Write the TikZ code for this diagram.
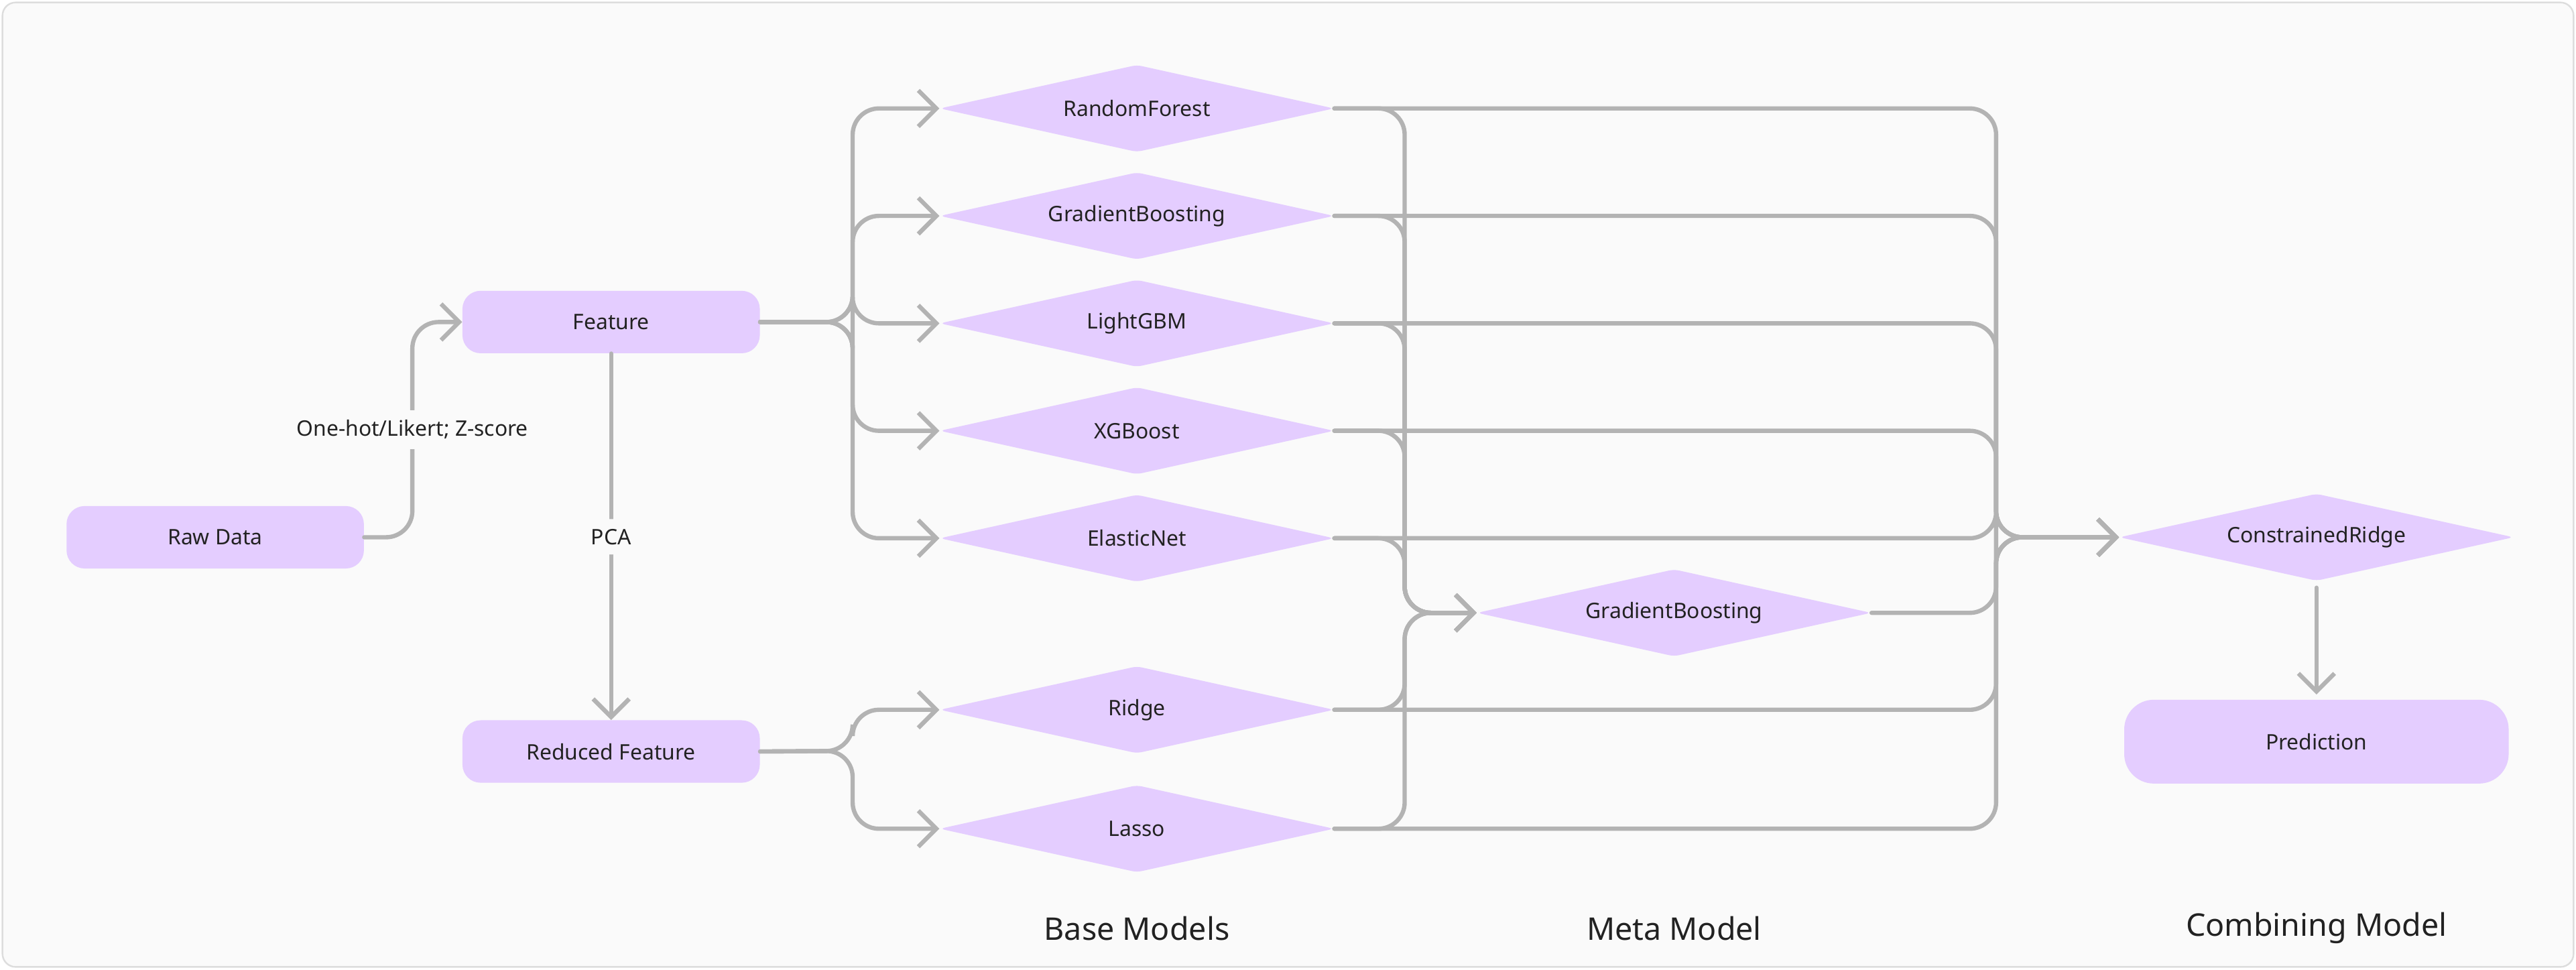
\documentclass[tikz,border=0pt]{standalone}
\usepackage{fontspec}
\setmainfont{Noto Sans}
\usetikzlibrary{positioning,shapes.geometric,arrows.meta}
\definecolor{boxfill}{HTML}{E4CDFF}
\definecolor{linegray}{HTML}{B3B3B3}
\definecolor{txt}{HTML}{222222}
\definecolor{bgpaper}{HTML}{FAFAFA}
\definecolor{frameline}{HTML}{DDDDDD}

\begin{document}
\begin{tikzpicture}[x=1pt,y=-1pt]
\tikzstyle{pill}=[rectangle, rounded corners=11pt, fill=boxfill, text=txt, minimum width=181pt, minimum height=38pt, font=\fontsize{13}{15}\selectfont]
\tikzstyle{model}=[diamond, aspect=4.5, rounded corners=3pt, fill=boxfill, text=txt, minimum width=240pt, minimum height=53pt, inner sep=0pt, font=\fontsize{13}{15}\selectfont]
\tikzstyle{link}=[draw=linegray, line width=2.6pt, line cap=round, rounded corners=16pt]
\tikzstyle{connect}=[link, -{Straight Barb[length=11pt,width=22pt]}]
\tikzstyle{tag}=[fill=bgpaper, text=txt, inner sep=6pt, font=\fontsize{13}{15}\selectfont]
\tikzstyle{caption}=[text=txt, font=\fontsize{19}{22}\selectfont]
\useasboundingbox (0,0) rectangle (1568,590);
\draw[frameline, fill=bgpaper, rounded corners=8pt, line width=1pt] (1.5,1.5) rectangle (1566.5,588.5);
\node[pill] (raw) at (131,327) {Raw Data};
\node[pill] (feat) at (372,196) {Feature};
\node[pill] (red) [below=223pt of feat] {Reduced Feature};
\node[model] (rf) at (692,66) {RandomForest};
\node[model] (gb) [below=12pt of rf] {GradientBoosting};
\node[model] (lgbm) [below=12pt of gb] {LightGBM};
\node[model] (xgb) [below=12pt of lgbm] {XGBoost};
\node[model] (en) [below=12pt of xgb] {ElasticNet};
\node[model] (ridge) [below=51pt of en] {Ridge};
\node[model] (lasso) [below=19pt of ridge] {Lasso};
\node[model] (meta) at (1019,373) {GradientBoosting};
\node[model] (cr) at (1410,327) {ConstrainedRidge};
\node[pill, rounded corners=18pt, minimum width=234pt, minimum height=51pt] (pred) [below=72pt of cr] {Prediction};
\node[caption] (basecap) at (692,565) {Base Models};
\node[caption] (metacap) at (meta |- basecap) {Meta Model};
\node[caption] (combcap) at (cr |- basecap) {Combining Model};
\coordinate (rawbus) at (251,327);
\coordinate (featbus) at (519,196);
\coordinate (redbus) at (519,457);
\coordinate (metabus) at (855,373);
\coordinate (combbus) at (1215,327);
\draw[connect] (raw.east) -- (rawbus) |- node[tag, pos=0.25] {One-hot/Likert; Z-score} (feat.west);
\draw[connect] (feat.south) -- node[tag] {PCA} (red.north);
\foreach \m in {rf,gb,lgbm,xgb,en}
  \draw[connect] (feat.east) -- (featbus) |- (\m.west);
\foreach \m in {ridge,lasso}
  \draw[connect] (red.east) -- (redbus) |- (\m.west);
\foreach \m in {rf,gb,lgbm,xgb,en,ridge,lasso} {
  \draw[connect] (\m.east) -| (combbus) -- (cr.west);
  \draw[connect] (\m.east) -| (metabus) -- (meta.west);
}
\draw[connect] (meta.east) -| (combbus) -- (cr.west);
\draw[connect, shorten <=4pt, shorten >=3pt] (cr.south) -- (pred.north);
\end{tikzpicture}
\end{document}
